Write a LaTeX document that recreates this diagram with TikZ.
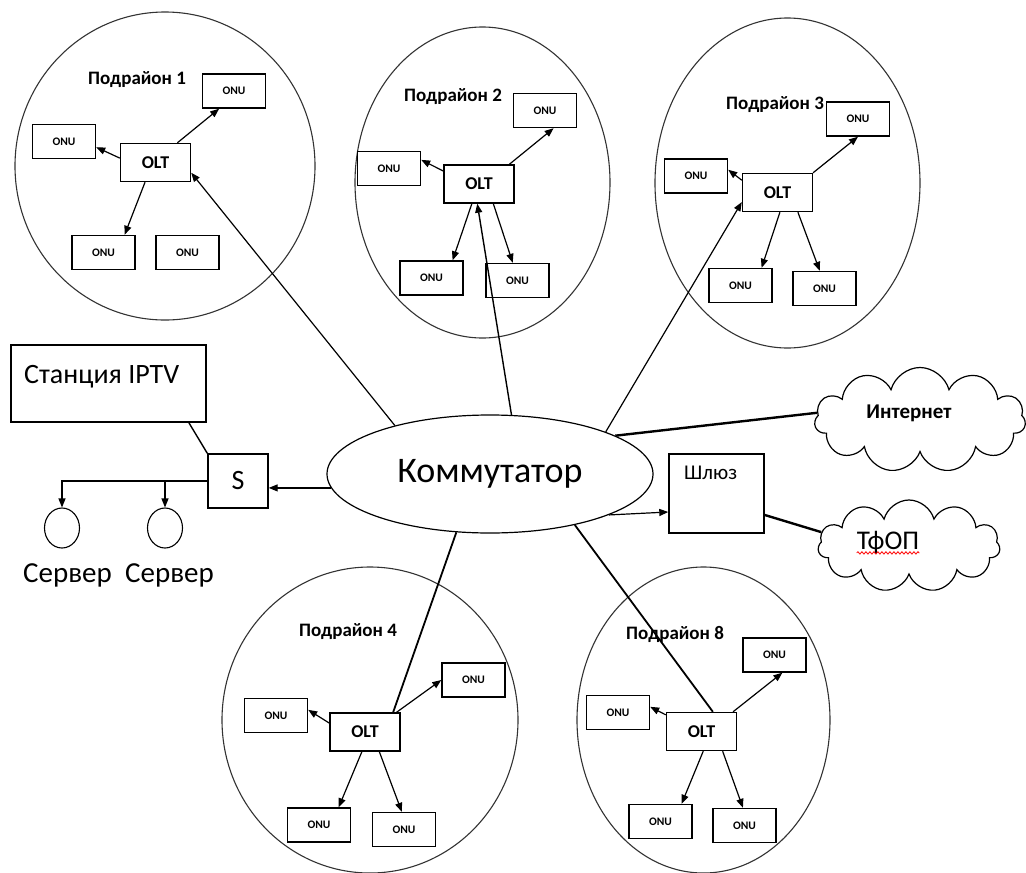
\documentclass[tikz,border=0pt]{standalone}
\usepackage{fontspec}
\setmainfont{Carlito}
\usetikzlibrary{shapes.geometric,shapes.symbols,arrows.meta,decorations.pathmorphing}
\begin{document}
\begin{tikzpicture}[x=1pt,y=-1pt,
  region/.style={draw=black!80, line width=1.1pt, ellipse, inner sep=0pt},
  box/.style={draw, line width=1.4pt, rectangle, inner sep=0pt, fill=white},
  onu/.style={box, minimum width=63pt, minimum height=34pt, font=\fontsize{11.5}{13}\selectfont\bfseries},
  olt/.style={box, minimum width=70pt, minimum height=38pt, font=\fontsize{18}{20}\selectfont\bfseries},
  sub/.style={font=\fontsize{19}{22}\selectfont\bfseries, inner sep=0pt},
  arr/.style={-{Triangle[length=9pt,width=7pt]}, line width=1.2pt},
  spoke/.style={line width=1.8pt},
  thickwire/.style={line width=2.4pt},
  srv/.style={draw, ellipse, line width=1.1pt, minimum width=35pt, minimum height=40pt, inner sep=0pt},
  cloudy/.style={cloud, draw, cloud puffs=11, aspect=2, line width=1.2pt, inner sep=0pt}
]
\useasboundingbox (0,0) rectangle (1026,873);
\fill[white] (0,0) rectangle (1026,873);

% regions
\node[region, minimum width=300pt, minimum height=308pt] (r1) at (165,166) {};
\node[region, minimum width=255pt, minimum height=311pt] (r2) at (482.5,182.5) {};
\node[region, minimum width=265pt, minimum height=330pt] (r3) at (787.5,183) {};
\node[region, minimum width=296pt, minimum height=306pt] (r4) at (370,720) {};
\node[region, minimum width=253pt, minimum height=306pt] (r8) at (703.5,720) {};

% cluster 1
\node[sub] (sub1) at (137,80) {Подрайон 1};
\node[olt] (olt1) at (155.5,162.5) {OLT};
\node[onu] (onu1a) at (234,91) {ONU};
\node[onu] (onu1b) at (64,141.5) {ONU};
\node[onu] (onu1c) at (103.5,252.5) {ONU};
\node[onu] (onu1d) at (187.5,252.5) {ONU};
\draw[arr] (olt1.42) -- (onu1a.-130);
\draw[arr] (olt1.173) -- (onu1b.-10);
\draw[arr] (olt1.-118) -- (onu1c.40);

% cluster 2
\node[sub] (sub2) at (453,97) {Подрайон 2};
\node[olt] (olt2) at (479,184) {OLT};
\node[onu] (onu2a) at (545,110.5) {ONU};
\node[onu] (onu2b) at (389,168.5) {ONU};
\node[onu] (onu2c) at (431.5,278) {ONU};
\node[onu] (onu2d) at (517.5,280.5) {ONU};
\draw[arr] (olt2.33) -- (onu2a.-64);
\draw[arr] (olt2.160) -- (onu2b.15);
\draw[arr] (olt2.-110) -- (onu2c.40);
\draw[arr] (olt2.-54) -- (onu2d.105);

% cluster 3
\node[sub] (sub3) at (775,105) {Подрайон 3};
\node[olt] (olt3) at (777.5,192.5) {OLT};
\node[onu] (onu3a) at (858,119) {ONU};
\node[onu] (onu3b) at (696,176) {ONU};
\node[onu] (onu3c) at (740.5,285.5) {ONU};
\node[onu] (onu3d) at (824.5,288.5) {ONU};
\draw[arr] (olt3.29) -- (onu3a.-90);
\draw[arr] (olt3.161) -- (onu3b.11);
\draw[arr] (olt3.-83) -- (onu3c.40);
\draw[arr] (olt3.-44) -- (onu3d.105);

% cluster 4
\node[sub] (sub4) at (348,632) {Подрайон 4};
\node[olt] (olt4) at (365,732) {OLT};
\node[onu] (onu4a) at (473.5,680) {ONU};
\node[onu] (onu4b) at (276,715.5) {ONU};
\node[onu] (onu4c) at (319,825) {ONU};
\node[onu] (onu4d) at (404,829.5) {ONU};
\draw[arr] (olt4.32) -- (onu4a.180);
\draw[arr] (olt4.166) -- (onu4b.10);
\draw[arr] (olt4.-99) -- (onu4c.42);
\draw[arr] (olt4.-54) -- (onu4d.97);

% cluster 8
\node[sub] (sub8) at (675,634) {Подрайон 8};
\node[olt] (olt8) at (701.5,731.5) {OLT};
\node[onu] (onu8a) at (774.5,655) {ONU};
\node[onu] (onu8b) at (618,712.5) {ONU};
\node[onu] (onu8c) at (660.5,821.5) {ONU};
\node[onu] (onu8d) at (744.5,825.5) {ONU};
\draw[arr] (olt8.32) -- (onu8a.-66);
\draw[arr] (olt8.155) -- (onu8b.10);
\draw[arr] (olt8.-85) -- (onu8c.40);
\draw[arr] (olt8.-43) -- (onu8d.95);

% switch
\node[ellipse, draw, line width=1.2pt, minimum width=326pt, minimum height=118pt, inner sep=0pt,
      font=\fontsize{36}{42}\selectfont] (sw) at (490,474) {Коммутатор};

% IPTV station, S, servers
\node[box, minimum width=195pt, minimum height=77pt] (iptv) at (108.5,383.5) {};
\node[anchor=west, inner sep=0pt, font=\fontsize{28}{32}\selectfont] (iptvtxt) at (24,377) {Станция IPTV};
\node[box, minimum width=60pt, minimum height=54pt, font=\fontsize{28}{32}\selectfont] (s) at (238,481) {S};
\node[srv] (srv1) at (62,528) {};
\node[srv] (srv2) at (165,528) {};
\node[inner sep=0pt, font=\fontsize{29}{34}\selectfont] (lab1) at (67.5,575) {Сервер};
\node[inner sep=0pt, font=\fontsize{29}{34}\selectfont] (lab2) at (169.5,575) {Сервер};

% gateway and clouds
\node[box, minimum width=95pt, minimum height=79pt] (gw) at (716.5,493.5) {};
\node[anchor=west, inner sep=0pt, font=\fontsize{21}{24}\selectfont] (gwtxt) at (684,473) {Шлюз};
\node[cloudy, minimum width=211pt, minimum height=105pt] (inet) at (920,420) {};
\node[inner sep=0pt, font=\fontsize{21}{24}\selectfont\bfseries] (inettxt) at (909,413) {Интернет};
\node[cloudy, minimum width=182pt, minimum height=92pt] (tfop) at (909,546) {};
\node[inner sep=0pt, font=\fontsize{27}{32}\selectfont] (tfoptxt) at (888,543) {ТфОП};
\draw[red, line width=0.8pt, decorate, decoration={snake, amplitude=1.2pt, segment length=4pt}]
  ([yshift=-3pt]tfoptxt.base west) -- ([yshift=-3pt]tfoptxt.base east);

% spokes
\draw[spoke, arr] (sw.153) -- (olt1.-16);
\draw[arr, line width=1.4pt] (sw.70) -- (olt2.-95);
\draw[spoke, arr] (sw.20) -- (olt3.195);
\draw[spoke] (sw.-120) -- (olt4.35);
\draw[spoke] (sw.-31) -- (olt8.60);
\draw[thickwire] (sw.17) -- (inet.176);
\draw[arr] (sw.-19) -- (gw.201);
\draw[thickwire] (gw.-24) -- (tfop.171);
\draw[arr] (sw.185) -- (sw.185 -| s.east);
\draw[line width=1.4pt] (iptv.-26) -- (s.north west);
\draw[arr] (s.west) -| (srv1.north);
\draw[arr] (s.west) -| (srv2.north);
\end{tikzpicture}
\end{document}
